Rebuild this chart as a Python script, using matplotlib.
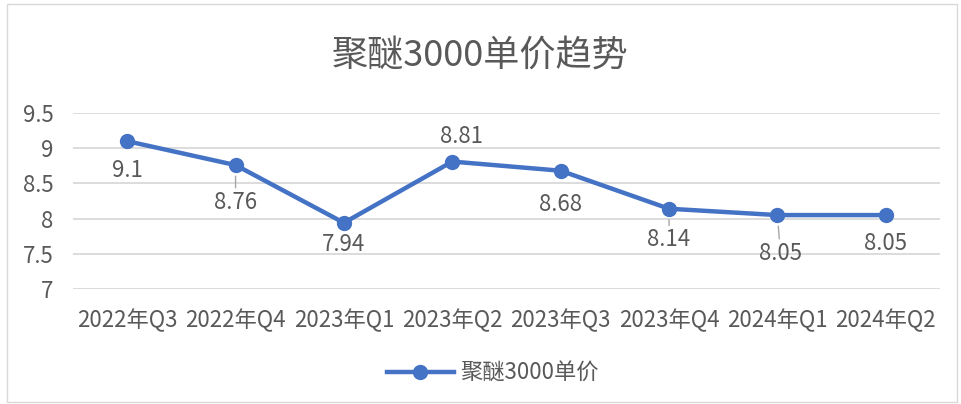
import matplotlib
matplotlib.use('Agg')
import matplotlib.pyplot as plt
from matplotlib.patches import Rectangle

plt.rcParams['font.family'] = ['Noto Sans CJK SC', 'DejaVu Sans']

quarters = ['2022年Q3', '2022年Q4', '2023年Q1', '2023年Q2',
            '2023年Q3', '2023年Q4', '2024年Q1', '2024年Q2']
prices = [9.1, 8.76, 7.94, 8.81, 8.68, 8.14, 8.05, 8.05]
y_ticks = [7, 7.5, 8, 8.5, 9, 9.5]
y_tick_labels = ['7', '7.5', '8', '8.5', '9', '9.5']

# label offsets in pixels, and whether Excel drew a leader line
label_offsets = [(0, -29), (0, -37), (0, -22), (9, 25),
                 (0, -34), (0, -31), (3, -38), (0, -28)]
leaders = [False, True, False, False, False, True, True, False]

blue = '#4472C4'
grey = '#595959'

fig = plt.figure(figsize=(9.61, 4.04), dpi=100)
fig.patches.append(Rectangle((7 / 961, 2 / 404), 950 / 961, 398 / 404,
                             transform=fig.transFigure, fill=False,
                             edgecolor='#D9D9D9', linewidth=1))
ax = fig.add_axes([73 / 961, 115 / 404, 867 / 961, 176 / 404])

x = list(range(len(quarters)))
ax.plot(x, prices, color=blue, linewidth=3.2, marker='o', markersize=10,
        label='聚醚3000单价', zorder=3)

for i, v in enumerate(prices):
    dx, dy = label_offsets[i]
    ap = None
    if leaders[i]:
        ap = dict(arrowstyle='-', color='#A6A6A6', linewidth=1,
                  shrinkA=0, shrinkB=8)
    ax.annotate(str(v), (i, v), xytext=(dx, dy), textcoords='offset pixels',
                ha='center', va='center', fontsize=16, color=grey,
                arrowprops=ap)

ax.set_xlim(-0.5, len(quarters) - 0.5)
ax.set_ylim(7, 9.5)
ax.set_yticks(y_ticks)
ax.set_yticklabels(y_tick_labels)
ax.set_xticks(x)
ax.set_xticklabels(quarters)
ax.tick_params(axis='both', length=0, labelsize=16, labelcolor=grey)
ax.tick_params(axis='x', pad=14)
ax.tick_params(axis='y', pad=14)
ax.grid(axis='y', color='#D9D9D9', linewidth=1.3)
ax.set_axisbelow(True)
for s in ax.spines.values():
    s.set_visible(False)

fig.text(0.5, 348 / 404, '聚醚3000单价趋势', ha='center', va='center',
         fontsize=26, color=grey)

leg = fig.legend(loc='center', bbox_to_anchor=(493 / 961, 31 / 404),
                 frameon=False, fontsize=16, handlelength=3.0,
                 handletextpad=0.3)
for t in leg.get_texts():
    t.set_color(grey)

fig.savefig('out.png', dpi=100)
